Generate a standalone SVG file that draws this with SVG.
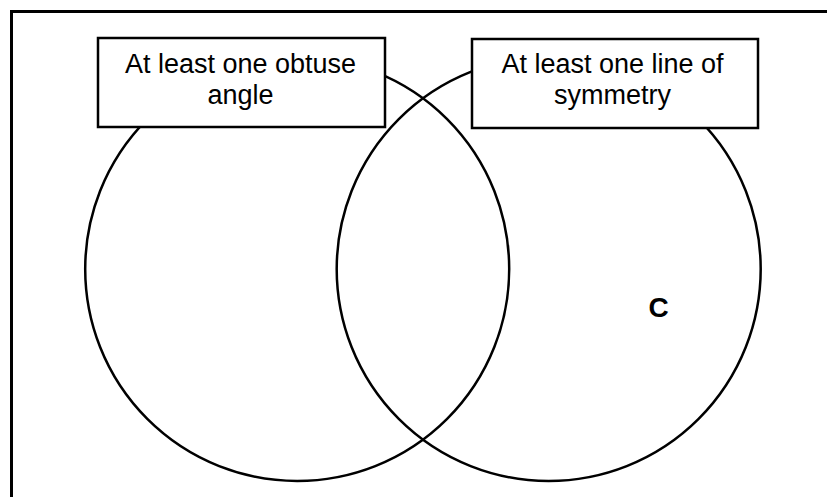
<svg xmlns="http://www.w3.org/2000/svg" width="827" height="497" viewBox="0 0 827 497">
<style>
.ln{fill:none;stroke:#000;stroke-width:2.5}
.box{fill:#fff;stroke:#000;stroke-width:2.5}
.t{font-family:"Liberation Sans",Arial,sans-serif;font-size:27px;fill:#000;text-anchor:middle}
.b{font-weight:bold;font-size:28px}
</style>
<rect x="0" y="0" width="827" height="497" fill="#fff"/>
<path d="M11.5 497 V11.5 H827" fill="none" stroke="#000" stroke-width="3"/>
<g id="connectors">
<circle id="circle-left" class="ln" cx="297.2" cy="269" r="212"/>
<circle id="circle-right" class="ln" cx="548.7" cy="269" r="212"/>
</g>
<g id="label-obtuse">
<rect class="box" x="98" y="38" width="287" height="89"/>
<text class="t" x="240.5" y="73">At least one obtuse</text>
<text class="t" x="240.5" y="104">angle</text>
</g>
<g id="label-symmetry">
<rect class="box" x="472" y="39" width="286" height="89"/>
<text class="t" x="612.5" y="73">At least one line of</text>
<text class="t" x="612.5" y="104">symmetry</text>
</g>
<g id="shape-c">
<text class="t b" x="658.5" y="317">C</text>
</g>
</svg>
